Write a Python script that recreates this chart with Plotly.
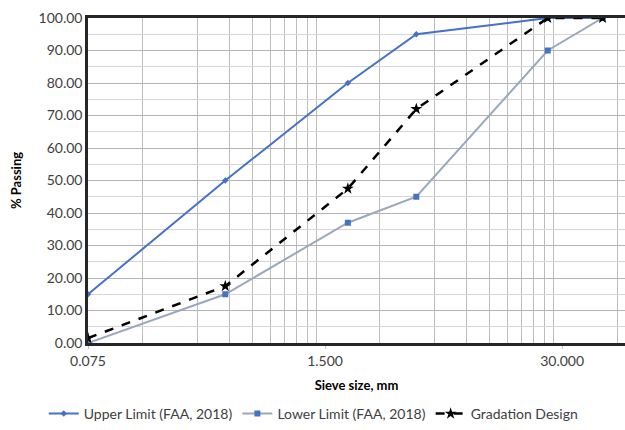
import plotly.graph_objects as go

sieve_mm = [0.075, 0.425, 2.0, 4.75, 25.0, 50.0]
upper_limit = [15, 50, 80, 95, 100, 100]
lower_limit = [0, 15, 37, 45, 90, 100]
gradation_design = [1.5, 17.5, 47.5, 72, 100, 100]

x_tick_vals = [0.075, 1.5, 30]
x_tick_text = ["0.075", "1.500", "30.000"]
y_tick_vals = list(range(0, 101, 10))
y_tick_text = [f"{v:.2f}" for v in y_tick_vals]

# Excel-style log-base-20 minor gridlines (even multiples of each major)
minor_x = [b * k for b in [0.075, 1.5, 30] for k in range(2, 20, 2)]
minor_y = list(range(5, 100, 10))

FONT = "Lato"
fig = go.Figure()
fig.add_trace(go.Scatter(
    x=sieve_mm, y=upper_limit, mode="lines+markers",
    name="Upper Limit (FAA, 2018)",
    line=dict(color="#4472C4", width=2),
    marker=dict(symbol="diamond", size=5, color="#4472C4"),
))
fig.add_trace(go.Scatter(
    x=sieve_mm, y=lower_limit, mode="lines+markers",
    name="Lower Limit (FAA, 2018)",
    line=dict(color="#9AA8BE", width=2),
    marker=dict(symbol="square", size=6, color="#4472C4"),
))
fig.add_trace(go.Scatter(
    x=sieve_mm, y=gradation_design, mode="lines+markers",
    name="Gradation Design",
    line=dict(color="#000000", width=2.5, dash="dash"),
    marker=dict(symbol="star", size=9, color="#000000"),
))

fig.update_layout(
    width=625, height=430,
    margin=dict(l=88, r=0, t=18, b=87, autoexpand=False),
    paper_bgcolor="white", plot_bgcolor="white",
    font=dict(family=FONT, size=14, color="#404040"),
    showlegend=True,
    legend=dict(orientation="h", xref="container", yref="container",
                x=0.07, xanchor="left", y=-0.008, yanchor="bottom",
                font=dict(family=FONT, size=14, color="#404040"),
                tracegroupgap=0, itemwidth=30),
)
fig.update_xaxes(
    type="log", range=[-1.125, 1.822],
    tickvals=x_tick_vals, ticktext=x_tick_text,
    showgrid=False,
    minor=dict(tickmode="array", tickvals=minor_x, showgrid=True,
               gridcolor="#BEBEBE", gridwidth=1, ticks=""),
    showline=True, linecolor="#262626", linewidth=2.5, mirror=False,
    ticks="outside", ticklen=3, tickcolor="#BFBFBF",
    tickfont=dict(size=14, color="#404040"),
    title=dict(text="<b>Sieve size, mm</b>", font=dict(size=13, color="#000000"), standoff=14),
    zeroline=False,
)
fig.update_yaxes(
    range=[0, 100], tickvals=y_tick_vals, ticktext=y_tick_text,
    showgrid=True, gridcolor="#B4B4B4", gridwidth=1,
    minor=dict(tickmode="array", tickvals=minor_y, showgrid=True,
               gridcolor="#D6D6D6", gridwidth=1, ticks=""),
    showline=True, linecolor="#262626", linewidth=2.5,
    ticks="", tickfont=dict(size=14, color="#404040"),
    title=dict(text="<b>% Passing</b>", font=dict(size=13, color="#000000"), standoff=14),
    zeroline=False,
)
# top border
fig.update_layout(xaxis2=dict(overlaying="x", side="top", showline=True, linecolor="#262626",
                              linewidth=2.5, showticklabels=False, showgrid=False, ticks="",
                              type="log", range=[-1.125, 1.822]))
fig.add_trace(go.Scatter(x=[], y=[], xaxis="x2", showlegend=False, hoverinfo="skip"))

fig.write_html("out.html")
